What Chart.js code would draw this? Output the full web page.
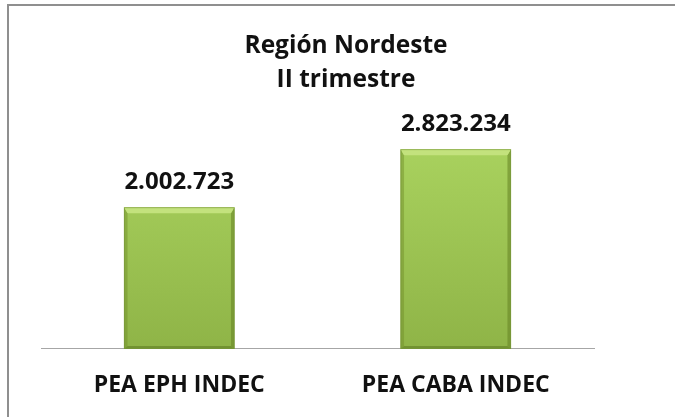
<!DOCTYPE html>
<html>
<head>
<meta charset="utf-8">
<script src="https://cdn.jsdelivr.net/npm/chart.js@4.4.1/dist/chart.umd.min.js"></script>
<style>
    html, body { margin: 0; padding: 0; background: #fff; overflow: hidden; }
    .frame {
        position: absolute;
        left: 7px;
        top: 4px;
        width: 700px;
        height: 440px;
        border-left: 2px solid #8f8f8f;
        border-top: 2px solid #8f8f8f;
    }
    .frame canvas { position: absolute; left: 0; top: 0; }
</style>
</head>
<body>
<div class="frame">
    <canvas id="peaChart" width="674" height="411"></canvas>
</div>
<script>
// datos del grafico
const titleLines = ['Región Nordeste', 'II trimestre'];
const categories = ['PEA EPH INDEC', 'PEA CABA INDEC'];
const peaValues = [2002723, 2823234];
const yMax = 3000000;

// 2823234 -> "2.823.234"
function formatMiles(v) {
    return String(v).replace(/\B(?=(\d{3})+(?!\d))/g, '.');
}

// relleno del cuerpo de la barra (claro arriba, mas oscuro abajo)
function barFill(context) {
    const chart = context.chart;
    const area = chart.chartArea;
    if (!area) return '#9bc24f';
    const g = chart.ctx.createLinearGradient(0, area.top, 0, area.bottom);
    g.addColorStop(0, '#aad35f');
    g.addColorStop(1, '#8fb447');
    return g;
}

// efecto bisel sobre cada barra
const bevelPlugin = {
    id: 'bevel',
    afterDatasetsDraw(chart) {
        const ctx = chart.ctx;
        const meta = chart.getDatasetMeta(0);
        meta.data.forEach(bar => {
            const w = bar.width;
            const left = bar.x - w / 2;
            const right = bar.x + w / 2;
            const top = bar.y;
            const bottom = bar.base;
            const b = 6;
            ctx.save();
            // borde izquierdo
            ctx.fillStyle = 'rgba(110,140,40,0.45)';
            ctx.beginPath();
            ctx.moveTo(left, top);
            ctx.lineTo(left + b * 0.6, top + b);
            ctx.lineTo(left + b * 0.6, bottom - b * 0.5);
            ctx.lineTo(left, bottom);
            ctx.closePath();
            ctx.fill();
            // borde derecho
            ctx.fillStyle = 'rgba(100,130,35,0.55)';
            ctx.beginPath();
            ctx.moveTo(right, top);
            ctx.lineTo(right - b * 0.6, top + b);
            ctx.lineTo(right - b * 0.6, bottom - b * 0.5);
            ctx.lineTo(right, bottom);
            ctx.closePath();
            ctx.fill();
            // bisel superior
            ctx.fillStyle = '#c3e27d';
            ctx.beginPath();
            ctx.moveTo(left, top);
            ctx.lineTo(right, top);
            ctx.lineTo(right - b * 0.6, top + b);
            ctx.lineTo(left + b * 0.6, top + b);
            ctx.closePath();
            ctx.fill();
            // bisel inferior
            ctx.fillStyle = 'rgba(95,125,35,0.6)';
            ctx.beginPath();
            ctx.moveTo(left, bottom);
            ctx.lineTo(right, bottom);
            ctx.lineTo(right - b * 0.6, bottom - b * 0.5);
            ctx.lineTo(left + b * 0.6, bottom - b * 0.5);
            ctx.closePath();
            ctx.fill();
            // contorno suave
            ctx.strokeStyle = 'rgba(120,150,60,0.6)';
            ctx.lineWidth = 1;
            ctx.strokeRect(left + 0.5, top + 0.5, w - 1, bottom - top - 1);
            ctx.restore();
        });
    }
};

// etiquetas de valor sobre las barras
const valueLabelPlugin = {
    id: 'valueLabels',
    afterDatasetsDraw(chart) {
        const ctx = chart.ctx;
        const meta = chart.getDatasetMeta(0);
        ctx.save();
        ctx.font = 'bold 24px "Open Sans"';
        ctx.fillStyle = '#111';
        ctx.textAlign = 'center';
        ctx.textBaseline = 'alphabetic';
        meta.data.forEach((bar, i) => {
            ctx.fillText(formatMiles(peaValues[i]), bar.x, bar.y - 18);
        });
        ctx.restore();
    }
};

const ctx = document.getElementById('peaChart').getContext('2d');
const chart = new Chart(ctx, {
    type: 'bar',
    data: {
        labels: categories,
        datasets: [{
            data: peaValues,
            backgroundColor: barFill,
            borderWidth: 0,
            categoryPercentage: 1.0,
            barPercentage: 0.4
        }]
    },
    options: {
        responsive: false,
        animation: false,
        layout: {
            padding: { left: 0, right: 0, top: 0, bottom: 3.5 }
        },
        scales: {
            x: {
                grid: { display: false },
                border: { display: true, color: '#a6a6a6', width: 1 },
                ticks: {
                    color: '#111',
                    padding: 14.5,
                    font: { family: '"Open Sans"', size: 23, weight: 'bold' }
                }
            },
            y: {
                position: 'left',
                min: 0,
                max: yMax,
                grid: { display: false },
                border: { display: false },
                ticks: { display: false },
                afterFit: s => { s.width = 32; }
            },
            // eje vacio a la derecha, solo para dejar el margen
            yRight: {
                type: 'linear',
                position: 'right',
                grid: { display: false },
                border: { display: false },
                ticks: { display: false },
                afterFit: s => { s.width = 89; }
            }
        },
        plugins: {
            legend: { display: false },
            tooltip: { enabled: false },
            title: {
                display: true,
                text: titleLines,
                color: '#111',
                font: { family: '"Open Sans"', size: 24.5, weight: 'bold', lineHeight: 1.38 },
                padding: { top: 23, bottom: 40 }
            }
        }
    },
    plugins: [bevelPlugin, valueLabelPlugin]
});
</script>
</body>
</html>
